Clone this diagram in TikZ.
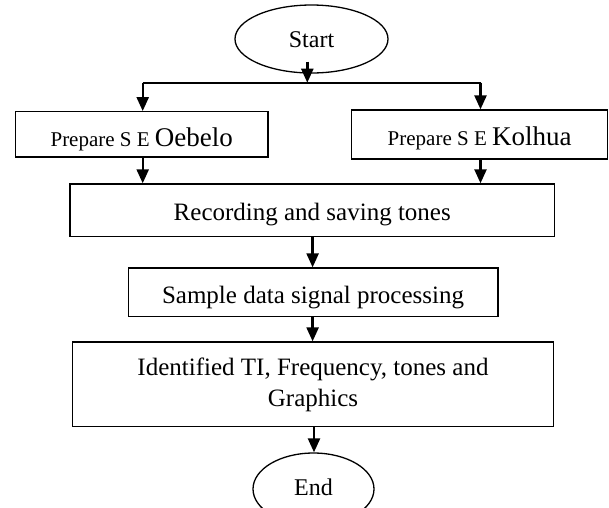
\documentclass[tikz,border=0pt]{standalone}
\usepackage{fontspec}
\setmainfont{Liberation Serif}
\usetikzlibrary{shapes.geometric,arrows.meta}
\newcommand{\smallfnt}{\fontsize{21}{25}\selectfont}
\newcommand{\bigfnt}{\fontsize{27}{31}\selectfont}
\begin{document}
\begin{tikzpicture}[x=1pt,y=-1pt,
  box/.style={draw,line width=1.3pt,rectangle,inner sep=0pt,align=center,font=\fontsize{25}{31}\selectfont},
  term/.style={draw,line width=1.3pt,ellipse,inner sep=0pt,font=\fontsize{24}{28}\selectfont},
  arr/.style={line width=2.4pt,-{Triangle[width=12pt,length=14pt]}},
  lin/.style={line width=2pt}]
\useasboundingbox (0,0) rectangle (609,507);
\node[term,minimum width=153pt,minimum height=68pt,text height=17.4pt,text depth=0pt] (start) at (311.5,39) {Start};
\node[box,minimum width=252.5pt,minimum height=45.3pt,text height=24.6pt,text depth=0pt] (left) at (141.75,134.35) {\smallfnt Prepare S E \bigfnt Oebelo};
\node[box,minimum width=256.3pt,minimum height=49pt,text height=21pt,text depth=0pt] (right) at (479.65,134.5) {\smallfnt Prepare S E \bigfnt Kolhua};
\node[box,minimum width=484.7pt,minimum height=52.5pt,text height=21.4pt,text depth=0pt] (rec) at (312.25,210.2) {Recording and saving tones};
\node[box,minimum width=369.7pt,minimum height=48.7pt,text height=22pt,text depth=0pt] (samp) at (313.05,292.35) {Sample data signal processing};
\node[box,minimum width=480.8pt,minimum height=84.7pt] (ident) at (313,384.35) {Identified TI, Frequency, tones and\\Graphics};
\node[term,minimum width=121pt,minimum height=72pt,text height=12pt,text depth=0pt] (end) at (313.5,489) {End};
\coordinate (j) at (307.3,82.7);
\coordinate (jl) at (142.7,82.7);
\coordinate (jr) at (480.5,82.7);
\draw[arr] (307.3,61.7) -- (j);
\draw[lin] (jl) -- (jr);
\draw[arr] (jl) -- (jl |- left.north);
\draw[arr] (jr) -- (jr |- right.north);
\draw[arr] (jl |- left.south) -- (jl |- rec.north);
\draw[arr] (jr |- right.south) -- (jr |- rec.north);
\draw[arr] (312.6,0 |- rec.south) -- (312.6,0 |- samp.north);
\draw[arr] (312.6,0 |- samp.south) -- (312.6,0 |- ident.north);
\draw[arr] (314,0 |- ident.south) -- (314,0 |- end.north);
\end{tikzpicture}
\end{document}
